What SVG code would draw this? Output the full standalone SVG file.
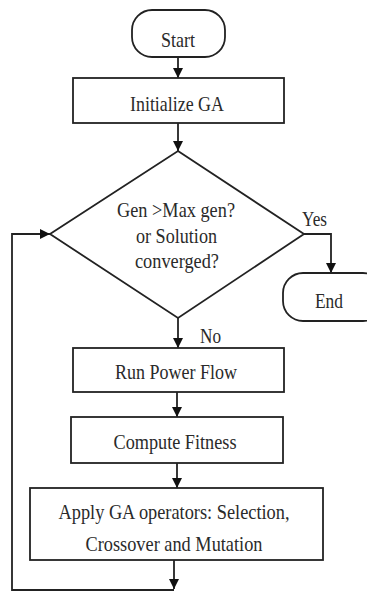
<svg xmlns="http://www.w3.org/2000/svg" width="367" height="592" viewBox="0 0 367 592">
<defs>
<style>
.box{fill:#fff;stroke:#222;stroke-width:1.8}
.ln{fill:none;stroke:#222;stroke-width:1.8}
.t{font-family:"Liberation Serif","Times New Roman",serif;font-size:22px;fill:#2a2a2a;text-anchor:middle}
.tl{font-family:"Liberation Serif","Times New Roman",serif;font-size:22px;fill:#2a2a2a}
</style>
<marker id="ah" markerWidth="10" markerHeight="12" refX="10" refY="5" orient="auto" markerUnits="userSpaceOnUse" viewBox="0 0 10 10">
<path d="M0,0 L10,5 L0,10 Z" fill="#111"/>
</marker>
</defs>
<rect width="367" height="592" fill="#fff"/>
<g id="connectors">
<line class="ln" x1="178" y1="57" x2="178" y2="78" marker-end="url(#ah)"/>
<line class="ln" x1="178" y1="123" x2="178" y2="151" marker-end="url(#ah)"/>
<polyline class="ln" points="304,234 331,234 331,273" marker-end="url(#ah)"/>
<line class="ln" x1="178" y1="318" x2="178" y2="348" marker-end="url(#ah)"/>
<line class="ln" x1="177" y1="392" x2="177" y2="417" marker-end="url(#ah)"/>
<line class="ln" x1="177" y1="463" x2="177" y2="488" marker-end="url(#ah)"/>
<line class="ln" x1="174" y1="560" x2="174" y2="589" marker-end="url(#ah)"/>
<polyline class="ln" points="174,590 12,590 12,234 50,234" marker-end="url(#ah)"/>
<text class="tl" x="302" y="226" textLength="25" lengthAdjust="spacingAndGlyphs">Yes</text>
<text class="tl" x="200" y="343" textLength="21" lengthAdjust="spacingAndGlyphs">No</text>
</g>
<g id="start">
<rect class="box" x="132" y="10" width="93" height="47" rx="20" ry="20"/>
<text class="t" x="178" y="47" textLength="34" lengthAdjust="spacingAndGlyphs">Start</text>
</g>
<g id="init">
<rect class="box" x="73" y="78" width="211" height="45"/>
<text class="t" x="177" y="111" textLength="94" lengthAdjust="spacingAndGlyphs">Initialize GA</text>
</g>
<g id="decision">
<polygon class="box" points="178,151 304,234 178,318 50,234"/>
<text class="t" x="176" y="217" textLength="118" lengthAdjust="spacingAndGlyphs">Gen &gt;Max gen?</text>
<text class="t" x="176.5" y="243" textLength="81" lengthAdjust="spacingAndGlyphs">or Solution</text>
<text class="t" x="177" y="268" textLength="84" lengthAdjust="spacingAndGlyphs">converged?</text>
</g>
<g id="end">
<rect class="box" x="283" y="273" width="100" height="48" rx="20" ry="20"/>
<text class="t" x="329" y="308" textLength="28" lengthAdjust="spacingAndGlyphs">End</text>
</g>
<g id="powerflow">
<rect class="box" x="73" y="348" width="211" height="44"/>
<text class="t" x="176" y="379" textLength="122" lengthAdjust="spacingAndGlyphs">Run Power Flow</text>
</g>
<g id="fitness">
<rect class="box" x="71" y="417" width="212" height="46"/>
<text class="t" x="175" y="449" textLength="123" lengthAdjust="spacingAndGlyphs">Compute Fitness</text>
</g>
<g id="operators">
<rect class="box" x="30" y="488" width="293" height="72"/>
<text class="t" x="174" y="519" textLength="231" lengthAdjust="spacingAndGlyphs">Apply GA operators: Selection,</text>
<text class="t" x="174" y="551" textLength="177" lengthAdjust="spacingAndGlyphs">Crossover and Mutation</text>
</g>
</svg>
